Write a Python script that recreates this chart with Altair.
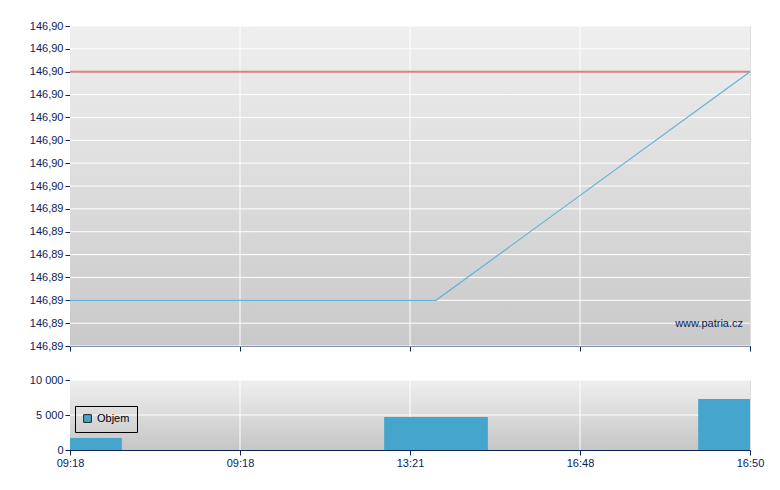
import json
import altair as alt
import pandas as pd

# ---- data ----
x_ticks = [0, 1, 2, 3, 4]
x_labels = ["09:18", "09:18", "13:21", "16:48", "16:50"]
trade_pos = [0, 2.153, 4]
price = [146.89, 146.89, 146.90]
volume = [1700, 4700, 7300]
ref_price = [146.90]
y_ticks = [146.888, 146.889, 146.890, 146.891, 146.892, 146.893, 146.894,
           146.895, 146.896, 146.897, 146.898, 146.899, 146.900, 146.901, 146.902]
y_labels = ["146,89", "146,89", "146,89", "146,89", "146,89", "146,89", "146,89",
            "146,90", "146,90", "146,90", "146,90", "146,90", "146,90", "146,90", "146,90"]
vol_ticks = [0, 5000, 10000]
vol_labels = ["0", "5 000", "10 000"]
series_name = "Objem"
bar_half_width = 0.305  # in x-axis units

NAVY = "#0a2458"
FONT = "Liberation Sans"
W, H1, H2 = 680, 320, 70
SPACING = 21

trades = pd.DataFrame({"x": trade_pos, "price": price, "vol": volume,
                       "series": [series_name] * len(trade_pos)})
ref = pd.DataFrame({"y": ref_price})
ygrid = pd.DataFrame({"y": y_ticks})
xgrid = pd.DataFrame({"x": x_ticks[1:-1]})
vgrid = pd.DataFrame({"y": vol_ticks[1:]})
one = pd.DataFrame({"a": [0]})

xmin, xmax = x_ticks[0], x_ticks[-1]
xscale = alt.Scale(domain=[xmin, xmax], nice=False, zero=False)
yscale = alt.Scale(domain=[y_ticks[0], y_ticks[-1]], nice=False, zero=False)
vscale = alt.Scale(domain=[vol_ticks[0], vol_ticks[-1]], nice=False)

x_label_expr = f"{json.dumps(x_labels)}[round(datum.value)]"
y_label_expr = f"{json.dumps(y_labels)}[round((datum.value - {y_ticks[0]}) * 1000)]"
v_label_expr = f"{json.dumps(vol_labels)}[round(datum.value / 5000)]"


def grad(top, bottom, h):
    return alt.Chart(one).mark_rect(
        color=alt.LinearGradient(
            gradient="linear", x1=0, x2=0, y1=0, y2=1,
            stops=[alt.GradientStop(color=top, offset=0),
                   alt.GradientStop(color=bottom, offset=1)])
    ).encode(x=alt.value(0), x2=alt.value(W), y=alt.value(0), y2=alt.value(h))


axis_common = dict(labelFont=FONT, labelFontSize=11, labelColor=NAVY,
                   domainColor=NAVY, tickColor=NAVY, tickSize=5, grid=False,
                   labelOverlap=False, title=None)

top_x_axis = alt.Axis(values=x_ticks, labels=False, **axis_common)
top_y_axis = alt.Axis(values=y_ticks, labelExpr=y_label_expr, labelPadding=2, **axis_common)

bg1 = grad("#efefef", "#c9c9c9", H1)
hg1 = alt.Chart(ygrid).mark_rule(color="white", strokeWidth=1).encode(
    y=alt.Y("y:Q", scale=yscale, axis=top_y_axis))
vg1 = alt.Chart(xgrid).mark_rule(color="white", strokeWidth=1).encode(
    x=alt.X("x:Q", scale=xscale, axis=top_x_axis))
line = alt.Chart(trades).mark_line(color="#63b2d8", strokeWidth=1.2).encode(
    x=alt.X("x:Q", scale=xscale, axis=top_x_axis),
    y=alt.Y("price:Q", scale=yscale, axis=top_y_axis))
refline = alt.Chart(ref).mark_rule(color="#e07f7f", strokeWidth=2).encode(
    y=alt.Y("y:Q", scale=yscale, axis=top_y_axis))
wm = alt.Chart(one).mark_text(text="www.patria.cz", align="right", baseline="middle",
                              font=FONT, fontSize=11, color=NAVY).encode(
    x=alt.value(W - 7), y=alt.value(H1 - 22))

top = alt.layer(bg1, hg1, vg1, refline, line, wm).properties(width=W, height=H1)

bot_x_axis = alt.Axis(values=x_ticks, labelExpr=x_label_expr, labelFlush=False,
                      labelAlign="center", labelPadding=2, **axis_common)
bot_y_axis = alt.Axis(values=vol_ticks, labelExpr=v_label_expr, labelPadding=2, **axis_common)

bg2 = grad("#efefef", "#c6c6c6", H2)
hg2 = alt.Chart(vgrid).mark_rule(color="white", strokeWidth=1).encode(
    y=alt.Y("y:Q", scale=vscale, axis=bot_y_axis))
vg2 = alt.Chart(xgrid).mark_rule(color="white", strokeWidth=1).encode(
    x=alt.X("x:Q", scale=xscale, axis=bot_x_axis))
bars = alt.Chart(trades).transform_calculate(
    x0=f"max(datum.x - {bar_half_width}, {xmin})",
    x1=f"min(datum.x + {bar_half_width}, {xmax})"
).mark_rect().encode(
    x=alt.X("x0:Q", scale=xscale, axis=bot_x_axis),
    x2="x1:Q",
    y=alt.Y("vol:Q", scale=vscale, axis=bot_y_axis),
    y2=alt.datum(0),
    color=alt.Color("series:N", scale=alt.Scale(domain=[series_name], range=["#46a5cd"]),
                    legend=alt.Legend(orient="none", legendX=5, legendY=380,
                                      title=None, strokeColor="black", padding=7,
                                      symbolType="square", symbolSize=60,
                                      symbolFillColor="#46a5cd",
                                      symbolStrokeColor="#222", symbolStrokeWidth=1,
                                      labelFont=FONT, labelFontSize=11, labelColor="black")))

bottom = alt.layer(bg2, hg2, vg2, bars).properties(width=W, height=H2)

chart = alt.vconcat(top, bottom, spacing=SPACING).properties(
    padding={"left": 20, "top": 11, "right": 0, "bottom": 0}
).configure_view(stroke=None).configure(background="white")

chart.save("out.html", embed_options={"renderer": "svg", "actions": False})
